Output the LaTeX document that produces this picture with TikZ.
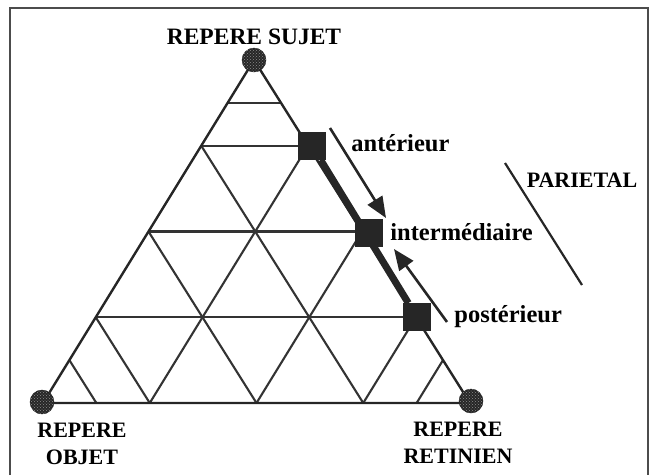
\documentclass[tikz,border=0pt]{standalone}
\usepackage{fontspec}
\setmainfont{Liberation Serif}
\usetikzlibrary{arrows.meta, positioning, calc, patterns}

\begin{document}
\begin{tikzpicture}[
  x=1pt, y=-1pt,
  font=\fontsize{22}{27}\selectfont\bfseries,
  edge/.style={draw=black!85, line width=2.4pt},
  grid/.style={draw=black!80, line width=2.1pt},
  repere/.style={circle, fill=black!85, draw=black!90, minimum size=24pt, inner sep=0pt, postaction={pattern=crosshatch dots, pattern color=black!45}},
  zone/.style={rectangle, fill=black!85, minimum size=28pt, inner sep=0pt},
  lbl/.style={align=center, inner sep=1pt},
  small/.style={lbl, font=\fontsize{24.5}{28}\selectfont\bfseries},
  move/.style={draw=black!85, line width=2.6pt, -{Triangle[length=21pt, width=17pt]}}
]
  \useasboundingbox (0,0) rectangle (655,475);

  % cadre
  \draw[line width=1.3pt, black!70] (10,475) |- (648,8) -- (648,475);

  % sommets du triangle
  \coordinate (S) at (254,60);
  \coordinate (O) at (43,403);
  \coordinate (R) at (470,403);

  % grille
  \foreach \f in {0.125,0.25,0.5,0.75} {
    \draw[grid] ($(S)!\f!(O)$) -- ($(S)!\f!(R)$);
    \draw[grid] ($(O)!\f!(S)$) -- ($(O)!\f!(R)$);
    \draw[grid] ($(R)!\f!(S)$) -- ($(R)!\f!(O)$);
  }
  \draw[edge] (S) -- (O) -- (R) -- cycle;

  % zones du cortex parietal
  \node[zone] (ant) at ($(S)!0.25!(R)+(4,0)$) {};
  \node[zone] (inter) at ($(S)!0.5!(R)+(7,1)$) {};
  \node[zone] (post) at ($(S)!0.75!(R)+(1,0)$) {};
  \draw[line width=7pt, black!85] (ant) -- (post);

  \node[small, right=24pt of ant, yshift=3pt] (lant) {antérieur};
  \node[small, right=6pt of inter] (linter) {intermédiaire};
  \node[small, right=22pt of post, yshift=1pt] (lpost) {postérieur};

  % fleches
  \coordinate (a1) at (330,128);
  \coordinate (a2) at (386,218);
  \coordinate (b1) at (447,322);
  \coordinate (b2) at (394,249);
  \draw[move] (a1) -- (a2);
  \draw[move] (b1) -- (b2);

  % parietal
  \node[lbl] (par) at (582,180) {PARIETAL};
  \coordinate (p1) at (505,163);
  \coordinate (p2) at (582,285);
  \draw[line width=2.2pt, black!85] (p1) -- (p2);

  % reperes
  \node[repere] (cS) at (S) {};
  \node[repere] (cO) at ([shift={(-1,-1)}]O) {};
  \node[repere] (cR) at ([shift={(1,-2)}]R) {};
  \node[lbl, above=2pt of cS, font=\fontsize{23.5}{27}\selectfont\bfseries] (lS) {REPERE SUJET};
  \node[lbl, below=8pt of cO, xshift=40pt] (lO) {REPERE\\OBJET};
  \node[lbl, below=8pt of cR, xshift=-13pt] (lR) {REPERE\\RETINIEN};
\end{tikzpicture}
\end{document}
